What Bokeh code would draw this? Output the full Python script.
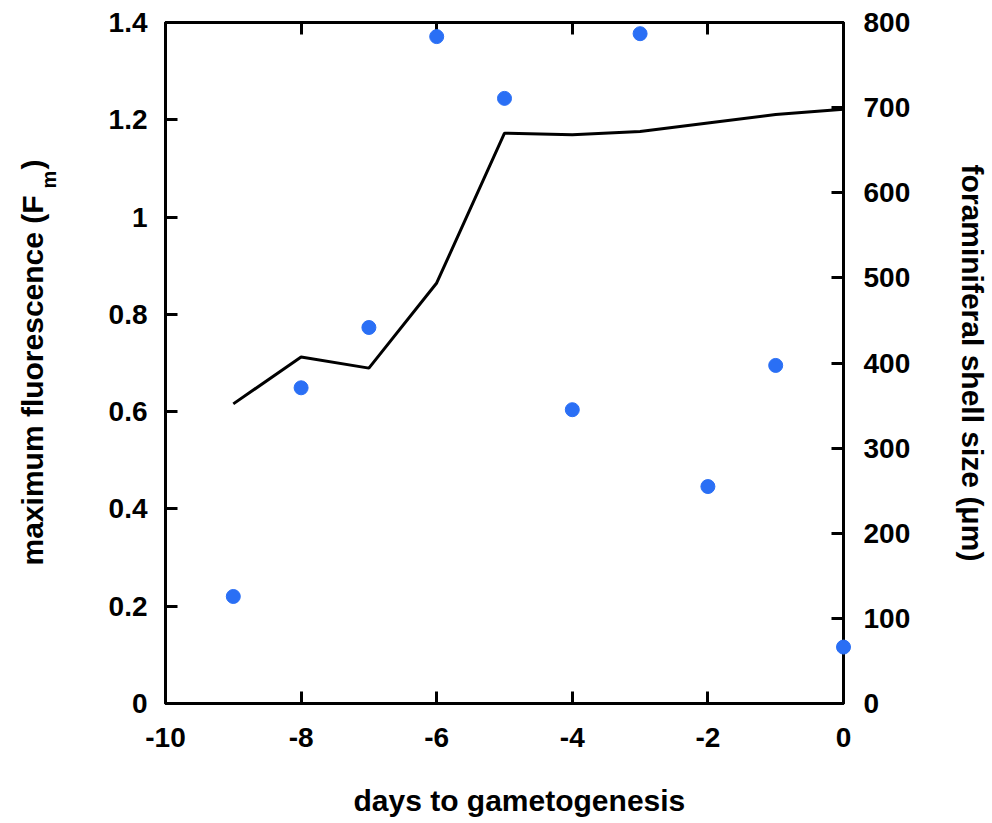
from math import pi
from bokeh.plotting import figure
from bokeh.layouts import row, column
from bokeh.models import Range1d, LinearAxis, FixedTicker, NumeralTickFormatter, ColumnDataSource
from bokeh.core.properties import value
from bokeh.embed import file_html
from bokeh.resources import INLINE

# ---- data ----
days = [-9, -8, -7, -6, -5, -4, -3, -2, -1, 0]
fluorescence = [0.22, 0.649, 0.773, 1.371, 1.244, 0.604, 1.377, 0.446, 0.695, 0.116]
shell_size = [352, 407, 394, 494, 670, 668, 672, 682, 692, 698]

x_ticks = [-10, -8, -6, -4, -2, 0]
x_tick_labels = ["-10", "-8", "-6", "-4", "-2", "0"]
left_ticks = [0, 0.2, 0.4, 0.6, 0.8, 1.0, 1.2, 1.4]
right_ticks = [0, 100, 200, 300, 400, 500, 600, 700, 800]

FONT = "Liberation Sans"
TICK_SIZE = "28px"
TITLE_SIZE = "30px"
W, H = 992, 823
SIDE_W = 65          # left strip holding the y title
STRIP_H = 60         # bottom strip holding the x title
MAIN_H = H - STRIP_H
TOP = 22
FRAME_BOTTOM = 703
FRAME_LEFT, FRAME_RIGHT = 165, 845

p = figure(width=W - SIDE_W, height=MAIN_H, output_backend="svg", toolbar_location=None,
           x_range=Range1d(-10, 0), y_range=Range1d(0, 1.4),
           min_border_left=FRAME_LEFT - SIDE_W, min_border_right=W - FRAME_RIGHT,
           min_border_top=TOP, min_border_bottom=MAIN_H - FRAME_BOTTOM,
           background_fill_color="white", border_fill_color="white")
p.grid.visible = False
p.outline_line_color = "black"
p.outline_line_width = 3

p.extra_y_ranges = {"size": Range1d(0, 800)}

def style_axis(ax, standoff):
    ax.axis_line_color = "black"
    ax.axis_line_width = 3
    ax.major_tick_line_color = "black"
    ax.major_tick_line_width = 3
    ax.major_tick_in = 12
    ax.major_tick_out = 0
    ax.minor_tick_line_color = None
    ax.major_label_text_font = FONT
    ax.major_label_text_font_size = TICK_SIZE
    ax.major_label_text_font_style = "bold"
    ax.major_label_text_color = "black"
    ax.major_label_standoff = standoff
    ax.axis_label_text_font = FONT
    ax.axis_label_text_font_size = TITLE_SIZE
    ax.axis_label_text_font_style = "bold"
    ax.axis_label_text_color = "black"

# bottom axis
xa = p.xaxis[0]
xa.ticker = FixedTicker(ticks=x_ticks)
xa.major_label_overrides = dict(zip(x_ticks, x_tick_labels))
style_axis(xa, 24)

# left axis
ya = p.yaxis[0]
ya.ticker = FixedTicker(ticks=left_ticks)
ya.formatter = NumeralTickFormatter(format="0.[0]")
style_axis(ya, 18)

# right axis
ra = LinearAxis(y_range_name="size", ticker=FixedTicker(ticks=right_ticks))
style_axis(ra, 20)
ra.axis_label = "foraminiferal shell size (μm)"
ra.axis_label_standoff = 43
p.add_layout(ra, "right")

# top axis (ticks only)
ta = LinearAxis(ticker=FixedTicker(ticks=x_ticks))
style_axis(ta, 0)
ta.major_label_text_font_size = "0px"
ta.major_label_text_color = None
p.add_layout(ta, "above")

src = ColumnDataSource(dict(days=days, fl=fluorescence, size=shell_size))

p.line("days", "size", source=src, y_range_name="size", line_color="black", line_width=3)
r = p.scatter("days", "fl", source=src, size=14, fill_color="#2a6ff5", line_color="#2a6ff5")
r.level = "overlay"

# ---- left strip: y title with subscript (y range in page pixels, frame aligned with main) ----
side = figure(width=SIDE_W, height=MAIN_H, output_backend="svg", toolbar_location=None,
              x_range=Range1d(0, SIDE_W), y_range=Range1d(FRAME_BOTTOM, TOP),
              x_axis_type=None, y_axis_type=None,
              min_border_left=0, min_border_right=0, min_border_top=TOP,
              min_border_bottom=MAIN_H - FRAME_BOTTOM,
              background_fill_color="white", border_fill_color="white")
side.grid.visible = False
side.outline_line_color = None

title_parts = dict(text=["maximum fluorescence (F", ")"], x=[32, 32], y=[565, 169])
side.text(x="x", y="y", text="text", source=ColumnDataSource(title_parts), angle=pi / 2,
          text_font=value(FONT), text_font_size=TITLE_SIZE, text_font_style="bold",
          text_align="left", text_baseline="middle", text_color="black")
side.text(x=[48], y=[188], text=["m"], angle=pi / 2,
          text_font=value(FONT), text_font_size="20px", text_font_style="bold",
          text_align="left", text_baseline="middle", text_color="black")

# ---- bottom strip: x title (coordinates in page pixels) ----
bottom = figure(width=W, height=STRIP_H, output_backend="svg", toolbar_location=None,
                x_range=Range1d(0, W), y_range=Range1d(H, MAIN_H),
                x_axis_type=None, y_axis_type=None, min_border=0,
                background_fill_color="white", border_fill_color="white")
bottom.grid.visible = False
bottom.outline_line_color = None
bottom.text(x=[353], y=[800], text=["days to gametogenesis"],
            text_font=value(FONT), text_font_size=TITLE_SIZE, text_font_style="bold",
            text_align="left", text_baseline="middle", text_color="black")

layout = column(row(side, p, spacing=0), bottom, spacing=0)
open("out.html", "w").write(file_html(layout, INLINE))
